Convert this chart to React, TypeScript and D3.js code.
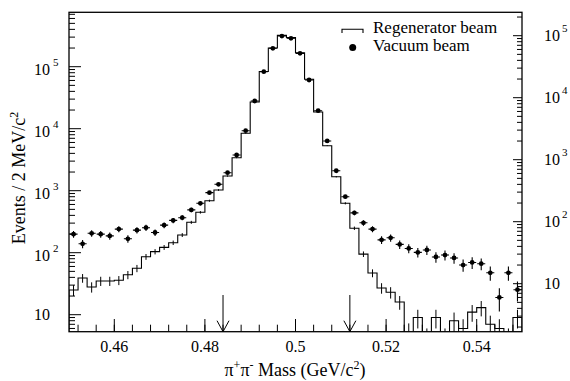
import React from 'react';
import * as d3 from 'd3';

// Histogram binning (2 MeV/c^2 bins from 0.45 to 0.55 GeV/c^2)
const binLow = 0.45;
const binWidth = 0.002;

// Regenerator beam counts per bin (left axis)
const regenCounts = [
  25, 39, 28, 35, 35, 36, 44, 56, 86, 104,
  122, 145, 193, 309, 448, 690, 1026, 1726, 3400, 8430,
  27000, 83700, 200000, 320000, 294000, 167000, 62600, 18600, 5320, 1680,
  626, 248, 95, 47, 27, 23, 16, 5, 9, 4,
  9, 4, 8, 6, 11, 13, 7, 6, 4, 9,
];

// Vacuum beam counts per bin (right axis)
const vacuumCounts = [
  63, 44, 65, 63, 59, 76, 53, 73, 80, 67,
  88, 105, 116, 155, 198, 294, 401, 617, 1190, 2938,
  8852, 26250, 62600, 98700, 90800, 51900, 19290, 6170, 2005, 664,
  253, 139, 96, 76, 51, 55, 43, 37, 32, 35,
  27, 29, 26, 20, 22, 21, 15, 6, 15, 8,
];

const xMajorTicks = [0.46, 0.48, 0.5, 0.52, 0.54];
const yDecades = [1, 2, 3, 4, 5];
const cutArrows = [0.484, 0.512];
const legendLabels = ['Regenerator beam', 'Vacuum beam'];

const FONT = "'Liberation Serif', 'Times New Roman', Times, serif";

export default function App() {
  const W = 570, H = 381;
  const L = 69, R = 522, T = 12.3, B = 331.7;
  const x = d3.scaleLinear().domain([0.45, 0.55]).range([L, R]);
  const yL = d3.scaleLog().domain([10, 1e5]).range([314.7, 66.7]);
  const yR = d3.scaleLog().domain([10, 1e5]).range([283.7, 35.7]);
  const clampY = (v: number) => (v > B ? B + 2 : v);
  const ts = { fontFamily: FONT };

  // histogram path
  const pts: [number, number][] = [];
  pts.push([x(binLow), B + 2]);
  regenCounts.forEach((c, i) => {
    const x0 = x(binLow + i * binWidth);
    const x1 = x(binLow + (i + 1) * binWidth);
    const yy = c > 0 ? clampY(yL(c)) : B + 2;
    pts.push([x0, yy]);
    pts.push([x1, yy]);
  });
  pts.push([x(binLow + regenCounts.length * binWidth), B + 2]);
  const histPath = d3.line()(pts) || '';

  // ticks
  const logTicks = (scale: any) => {
    const out: { y: number; major: boolean }[] = [];
    for (let k = 0; k <= 6; k++) {
      for (let m = 1; m <= 9; m++) {
        const v = m * Math.pow(10, k);
        const yy = scale(v);
        if (yy >= T && yy <= B) out.push({ y: yy, major: m === 1 });
      }
    }
    return out;
  };
  const leftTicks = logTicks(yL);
  const rightTicks = logTicks(yR);
  const xMinor = d3.range(0, 25).map((i) => 0.452 + 0.004 * i);

  return (
    <svg width={W} height={H} style={{ position: 'absolute', left: 0, top: 0, background: '#fff' }}>
      <defs>
        <clipPath id="plot">
          <rect x={L} y={T} width={R - L} height={B - T} />
        </clipPath>
      </defs>
      <rect x={0} y={0} width={W} height={H} fill="#fff" />

      <g clipPath="url(#plot)">
        {/* regenerator histogram */}
        <path d={histPath} fill="none" stroke="#000" strokeWidth={1.1} />
        {regenCounts.map((c, i) => {
          const cx = x(binLow + (i + 0.5) * binWidth);
          const e = Math.sqrt(c);
          const lo = c - e > 0 ? yL(c - e) : B + 5;
          return <line key={'re' + i} x1={cx} x2={cx} y1={yL(c + e)} y2={lo} stroke="#000" strokeWidth={1} />;
        })}
        {/* vacuum points */}
        {vacuumCounts.map((c, i) => {
          const cx = x(binLow + (i + 0.5) * binWidth);
          const x0 = x(binLow + i * binWidth) + 0.5;
          const x1 = x(binLow + (i + 1) * binWidth) - 0.5;
          const e = Math.sqrt(c);
          const cy = yR(c);
          const lo = c - e > 0 ? yR(c - e) : B + 5;
          return (
            <g key={'v' + i}>
              <line x1={cx} x2={cx} y1={yR(c + e)} y2={lo} stroke="#000" strokeWidth={1.1} />
              <line x1={x0} x2={x1} y1={cy} y2={cy} stroke="#000" strokeWidth={1.1} />
              <circle cx={cx} cy={cy} r={2.4} fill="#000" />
            </g>
          );
        })}
      </g>

      {/* cut arrows */}
      {cutArrows.map((v, i) => {
        const ax = x(v);
        return (
          <g key={'a' + i} stroke="#000" strokeWidth={1} fill="none">
            <line x1={ax} x2={ax} y1={295} y2={B} />
            <polyline points={`${ax - 6},${B - 11} ${ax},${B} ${ax + 6},${B - 11}`} />
          </g>
        );
      })}

      {/* frame */}
      <rect x={L} y={T} width={R - L} height={B - T} fill="none" stroke="#000" strokeWidth={1.3} />

      {/* left ticks */}
      {leftTicks.map((t, i) => (
        <line key={'lt' + i} x1={L} x2={L + (t.major ? 12 : 6)} y1={t.y} y2={t.y} stroke="#000" strokeWidth={1} />
      ))}
      {/* right ticks */}
      {rightTicks.map((t, i) => (
        <line key={'rt' + i} x1={R} x2={R - (t.major ? 9 : 5)} y1={t.y} y2={t.y} stroke="#000" strokeWidth={1} />
      ))}
      {/* bottom ticks */}
      {xMinor.map((v, i) => (
        <line key={'bt' + i} x1={x(v)} x2={x(v)} y1={B} y2={B - 7} stroke="#000" strokeWidth={1} />
      ))}
      {xMajorTicks.map((v, i) => (
        <line key={'bM' + i} x1={x(v)} x2={x(v)} y1={B} y2={B - 12.7} stroke="#000" strokeWidth={1} />
      ))}

      {/* x tick labels */}
      {xMajorTicks.map((v, i) => (
        <text key={'xl' + i} x={x(v)} y={352} textAnchor="middle" fontSize={16} style={ts}>{String(+v.toFixed(2))}</text>
      ))}

      {/* left y tick labels */}
      {yDecades.map((k) => {
        const ty = yL(Math.pow(10, k));
        if (k === 1) {
          return <text key={'yl' + k} x={50} y={ty + 5.5} textAnchor="end" fontSize={16} style={ts}>10</text>;
        }
        return (
          <g key={'yl' + k}>
            <text x={50} y={ty + 8.5} textAnchor="end" fontSize={16} style={ts}>10</text>
            <text x={53} y={ty - 0.5} fontSize={11} style={ts}>{k}</text>
          </g>
        );
      })}

      {/* right y tick labels */}
      {yDecades.map((k) => {
        const ty = yR(Math.pow(10, k));
        if (k === 1) {
          return <text key={'yr' + k} x={544} y={ty + 5.5} fontSize={16} style={ts}>10</text>;
        }
        return (
          <g key={'yr' + k}>
            <text x={544} y={ty + 5} fontSize={16} style={ts}>10</text>
            <text x={562} y={ty - 3.5} fontSize={11} style={ts}>{k}</text>
          </g>
        );
      })}

      {/* axis titles */}
      <text x={295} y={376} textAnchor="middle" fontSize={18} style={ts}>
        π<tspan dy={-7} fontSize={12}>+</tspan><tspan dy={7}>π</tspan><tspan dy={-7} fontSize={12}>-</tspan>
        <tspan dy={7}> Mass (GeV/c</tspan><tspan dy={-7} fontSize={12}>2</tspan><tspan dy={7}>)</tspan>
      </text>
      <text transform="translate(25,178) rotate(-90)" textAnchor="middle" fontSize={18} style={ts}>
        Events / 2 MeV/c<tspan dy={-7} fontSize={12}>2</tspan>
      </text>

      {/* legend */}
      <polyline points="342,33 342,29.3 363,29.3 363,33" fill="none" stroke="#000" strokeWidth={1.1} />
      <text x={373} y={33} fontSize={17} style={ts}>{legendLabels[0]}</text>
      <circle cx={352.7} cy={47.5} r={3.5} fill="#000" />
      <text x={373} y={51} fontSize={17} style={ts}>{legendLabels[1]}</text>
    </svg>
  );
}
